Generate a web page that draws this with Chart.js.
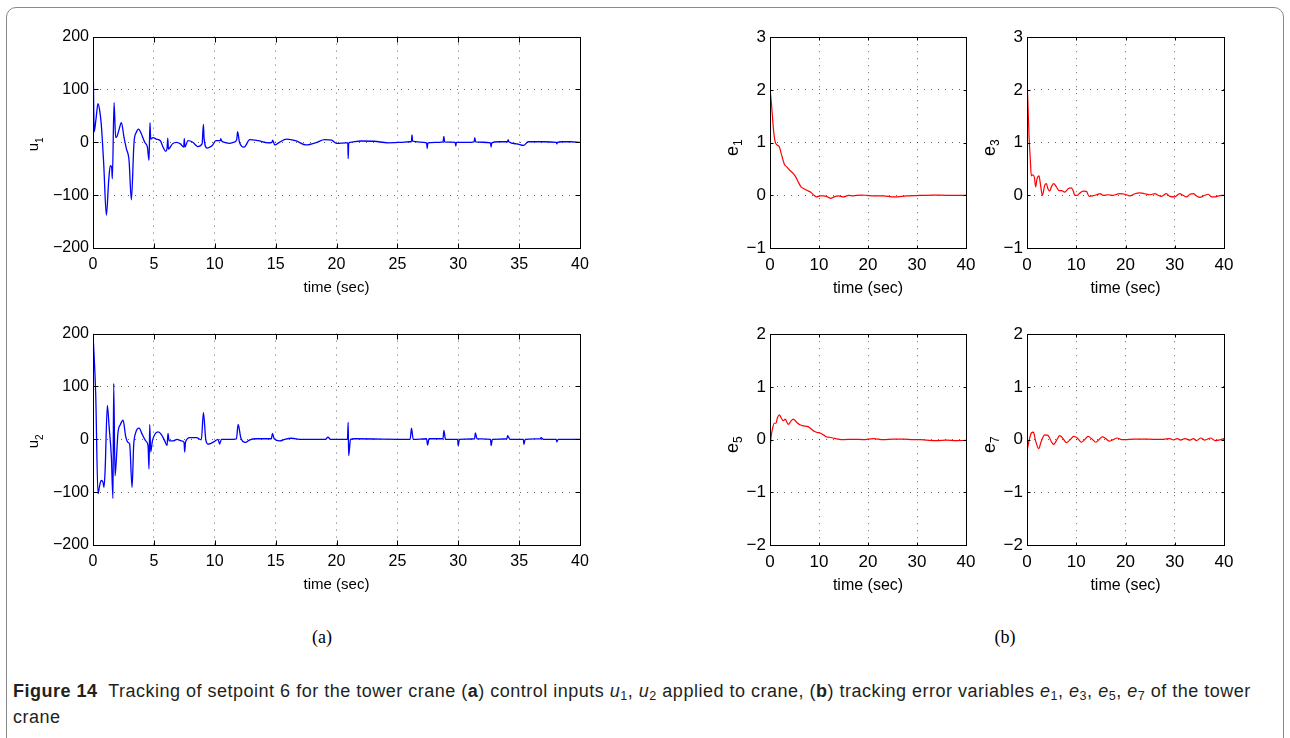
<!DOCTYPE html>
<html>
<head>
<meta charset="utf-8">
<script src="https://cdn.jsdelivr.net/npm/chart.js@4/dist/chart.umd.min.js"></script>
<style>
  html, body { margin: 0; padding: 0; background: #fff; }
  body { width: 1290px; height: 738px; position: relative; overflow: hidden;
         font-family: "Liberation Sans", Arial, sans-serif; }
  .frame { position: absolute; left: 6px; top: 7px; width: 1278px; height: 760px;
           border: 1px solid #8a8a8a; border-radius: 10px; box-sizing: border-box; }
  canvas { position: absolute; }
  .panel { position: absolute; font-family: "Liberation Serif", "DejaVu Serif", serif;
           font-size: 18px; transform: translate(-50%, -50%); color: #000; }
  .caption { position: absolute; left: 13px; top: 678px; font-size: 18px; letter-spacing: 0.5px;
             line-height: 26px; color: #231f20; white-space: nowrap; }
  .caption i { font-style: italic; }
  .caption sub { font-size: 70%; line-height: 0; vertical-align: -0.25em; }
</style>
</head>
<body>
<div class="frame"></div>
<canvas id="cU1"></canvas>
<canvas id="cU2"></canvas>
<canvas id="cE1"></canvas>
<canvas id="cE3"></canvas>
<canvas id="cE5"></canvas>
<canvas id="cE7"></canvas>
<div class="panel" style="left:322px; top:637px;">(a)</div>
<div class="panel" style="left:1005px; top:637px;">(b)</div>
<div class="caption"><b>Figure 14</b>&nbsp; Tracking of setpoint 6 for the tower crane (<b>a</b>) control inputs <i>u</i><sub>1</sub>, <i>u</i><sub>2</sub> applied to crane, (<b>b</b>) tracking error variables <i>e</i><sub>1</sub>, <i>e</i><sub>3</sub>, <i>e</i><sub>5</sub>, <i>e</i><sub>7</sub> of the tower<br>crane</div>

<script>
// ---- control input u1 ----
const u1T = [
  0, 0.03, 0.06, 0.1, 0.25, 0.41, 0.55, 0.68, 0.88, 1.1,
  1.29, 1.42, 1.53, 1.59, 1.73, 1.86, 1.97, 2.15, 2.33, 2.55,
  2.74, 2.96, 3.15, 3.37, 3.56, 3.75, 3.97, 4.25, 4.47, 4.6,
  4.68, 4.74, 4.93, 5.2, 5.53, 5.75, 5.97, 6.08, 6.14, 6.2,
  6.52, 6.85, 7.18, 7.45, 7.5, 7.55, 7.8, 8.2, 8.6, 8.96,
  9.07, 9.12, 9.37, 9.6, 9.8, 10.1, 10.45, 10.5, 10.55, 10.8,
  11.2, 11.56, 11.8, 11.88, 12.03, 12.41, 12.88, 13.56, 14.38, 14.7,
  14.75, 14.93, 15.3, 15.9, 16.7, 17.5, 18.4, 19.0, 19.6, 20.0,
  20.8, 20.93, 20.96, 21.0, 21.1, 22.05, 23.1, 24.2, 25.3, 26.0,
  26.15, 26.2, 26.25, 27.4, 27.45, 27.5, 28.1, 28.75, 28.82, 28.88,
  29.75, 29.8, 29.85, 30.7, 31.3, 31.36, 31.42, 32.65, 32.7, 32.75,
  33.3, 34.05, 34.1, 34.15, 34.8, 35.36, 35.75, 37.0, 38.05, 38.1,
  38.15, 38.5, 39.2, 40
];
const u1V = [
  165, 120, 60, 20, 45, 73, 60, 34, -41, -138,
  -72, -44, -47, -69, 75, 9, 11, 25, 37, 9,
  -12, -34, -109, 0, 19, 25, 16, 0, -9, -34,
  37, 6, 9, 6, 3, -9, -17, -12, 8, -13,
  -3, 0, -3, -9, 7, -9, 3, 0, -8, -3,
  34, 8, -11, -9, -6, 3, 3, 7, 3, 0,
  -2, 0, 5, 20, 0, -9, 5, 3, -1, 0,
  4, -5, 0, 6, 2.5, -5, 0, 5, 4, -2,
  -1, -1, -31, -2, 0, 2.5, 2, -1, 0, 1,
  1, 14, 2, -1, -12, -1, 0, 1, 11, 1,
  0, -7, 0, 0, 1, 9, 1, -1, -9, -1,
  1, 1, 5, 1, -3, -6, 1, 1, 0, -3,
  0, 1, 1, 0
];

// ---- control input u2 ----
const u2T = [
  0, 0.22, 0.41, 0.55, 0.68, 0.82, 0.9, 0.99, 1.18, 1.32,
  1.51, 1.64, 1.7, 1.81, 1.92, 2.05, 2.25, 2.47, 2.68, 2.88,
  3.01, 3.21, 3.34, 3.5, 3.78, 4.05, 4.33, 4.52, 4.6, 4.66,
  4.74, 4.88, 5.07, 5.34, 5.62, 5.89, 6.08, 6.16, 6.25, 6.58,
  6.9, 7.26, 7.48, 7.53, 7.6, 7.95, 8.5, 8.9, 9.07, 9.26,
  9.45, 9.64, 9.92, 10.27, 10.4, 10.55, 11.2, 11.78, 11.92, 12.14,
  12.52, 12.88, 13.42, 14.65, 14.74, 14.88, 15.34, 15.75, 16.3, 17.1,
  19.1, 19.3, 19.5, 20.9, 20.96, 21.0, 21.15, 21.5, 26.05, 26.16,
  26.3, 27.4, 27.48, 27.6, 28.75, 28.82, 28.95, 29.95, 29.99, 30.1,
  31.35, 31.4, 31.55, 32.65, 32.7, 32.8, 34.0, 34.05, 34.25, 35.35,
  35.39, 35.5, 36.75, 36.8, 37.0, 38.05, 38.1, 38.2, 40
];
const u2V = [
  200, 87, -103, -87, -78, -81, -91, -62, 64, 25,
  -34, -112, 106, -69, -37, 12, 28, 36, 6, -6,
  -9, -91, -12, 12, 21, 9, -3, -12, -56, 28,
  -24, -3, 9, 14, 9, -3, -12, 11, -3, -3,
  0, -3, -6, -24, -5, 3, 3, -1, 51, 0,
  -9, -8, -5, 0, -9, 0, 0, 1, 28, 3,
  -6, -1, 1, 1, 11, 1, -3, 0, 2, 0,
  0, 4, 0, 0, 32, -31, 0, 1, 0, 21,
  0, 1, -11, 1, 1, 17, 0, 0, -12, 0,
  1, 12, 1, 0, -12, 0, 1, 7, 0, 0,
  -10, 0, 1, 3, 0, 0, -5, 0, 0
];

// ---- tracking errors ----
const e1T = [0, 0.34, 0.68, 1.02, 1.36, 1.9, 2.24, 2.59, 2.93, 3.4, 4.08, 4.76, 5.3, 5.78, 6.33,
  6.94, 7.62, 8.3, 9.0, 9.5, 10.2, 11.0, 11.7, 12.4, 13.1, 13.9, 15, 16, 17, 18.4,
  19.7, 21.1, 23.1, 25.2, 27.9, 30.6, 33.3, 36, 40];
const e1V = [2.03, 1.69, 1.28, 1.03, 0.96, 0.92, 0.81, 0.69, 0.59, 0.54, 0.47, 0.41, 0.34, 0.25, 0.16,
  0.125, 0.09, 0.06, 0, -0.03, -0.01, -0.01, -0.03, -0.06, -0.03, -0.01, -0.03, 0, -0.01, 0.005,
  0, -0.01, -0.01, -0.03, -0.01, 0, 0.005, 0, 0];

const e3T = [0, 0.2, 0.4, 0.68, 0.88, 1.22, 1.5, 1.76, 2.03, 2.44, 2.71, 3.12, 3.6, 3.93, 4.27,
  4.6, 4.95, 5.42, 5.97, 6.5, 7.0, 7.66, 8.34, 9.0, 9.36, 9.7, 10.2, 10.7, 11.4, 12.07,
  12.6, 13.3, 14.1, 14.8, 15.5, 16.5, 17.5, 18.8, 19.9, 20.9, 21.9, 22.9, 23.9, 24.9, 26,
  26.6, 27.3, 28.3, 29, 30, 31, 31.7, 32.4, 33.1, 33.8, 34.4, 35.1, 36.1, 36.8, 37.5,
  38.2, 38.9, 40];
const e3V = [2.22, 1.72, 1.16, 0.66, 0.37, 0.39, 0.34, 0.16, 0.31, 0.37, 0.22, 0.0, 0.19, 0.22, 0.12,
  0.08, 0.16, 0.22, 0.16, 0.09, 0.09, 0.06, 0.125, 0.14, 0.09, 0, 0, 0.04, 0.08, 0.075,
  -0.02, -0.01, 0.01, 0.03, 0, 0.01, 0, 0.03, 0.02, -0.01, 0.03, 0.045, 0.03, 0.01, 0.03,
  0, -0.02, 0.03, -0.02, -0.03, 0.03, 0, -0.03, 0.02, 0.03, -0.01, -0.04, 0, 0.02, -0.03,
  -0.03, -0.01, 0];

const e5T = [0, 0.2, 0.54, 0.88, 1.22, 1.5, 1.9, 2.3, 2.72, 3.13, 3.4, 3.74, 4.2, 4.76, 5.44,
  6.12, 6.8, 7.6, 8.3, 9, 9.5, 10.2, 10.9, 11.6, 12.2, 12.9, 13.9, 15, 17, 19,
  21.1, 23.1, 25.2, 27.2, 29.3, 30.6, 32, 34, 36, 38.1, 40];
const e5V = [-0.22, 0.03, 0.22, 0.31, 0.31, 0.41, 0.47, 0.41, 0.36, 0.39, 0.34, 0.29, 0.34, 0.39, 0.33,
  0.28, 0.26, 0.25, 0.21, 0.16, 0.14, 0.125, 0.09, 0.05, 0.045, 0.03, 0.01, 0, 0.006, 0,
  0.02, 0, 0.01, 0.01, 0, 0, -0.01, -0.02, -0.01, -0.02, -0.015];

const e7T = [0, 0.4, 0.88, 1.29, 1.76, 2.37, 2.9, 3.6, 4.27, 4.95, 5.42, 5.97, 6.64, 7.32, 8.0,
  8.68, 9.5, 10.2, 11.05, 11.7, 12.4, 13.1, 14.0, 14.6, 15.3, 16, 16.7, 17.5, 18.3, 19.2,
  19.9, 21.6, 23.6, 25.6, 27.7, 29, 29.7, 30.5, 31.2, 32.1, 33.1, 33.8, 34.4, 35.3, 36.1,
  37.3, 38.2, 38.9, 40];
const e7V = [-0.22, -0.03, 0.125, 0.14, -0.03, -0.17, -0.03, 0.09, 0.08, -0.04, -0.09, -0.02, 0.075, 0.02, -0.06,
  -0.01, 0.06, 0.03, -0.05, 0, 0.06, 0.02, -0.05, 0, 0.05, 0.02, -0.03, 0, 0.03, 0,
  0, 0.01, 0.01, 0.005, 0.005, 0.02, -0.005, 0.02, -0.01, 0.02, -0.01, 0.02, -0.02, 0.03, -0.01,
  0.03, -0.02, -0.01, 0.02];

// ---- tick values ----
const uTimeTicks = [0, 5, 10, 15, 20, 25, 30, 35, 40];
const eTimeTicks = [0, 10, 20, 30, 40];
const uTicks = [-200, -100, 0, 100, 200];
const e13Ticks = [-1, 0, 1, 2, 3];
const e57Ticks = [-2, -1, 0, 1, 2];

const FONT = '"Liberation Sans", Arial, sans-serif';

// box around the axes, inward ticks, and axis titles (y title gets a subscript)
const matlabAxes = {
  id: 'matlabAxes',
  afterDraw(chart, args, o) {
    const { ctx, chartArea: a, scales: { x, y } } = chart;
    const L = Math.round(a.left) + 0.5, R = Math.round(a.right) + 0.5;
    const T = Math.round(a.top) + 0.5, B = Math.round(a.bottom) + 0.5;
    ctx.save();
    ctx.setLineDash([]);
    ctx.strokeStyle = '#000';
    ctx.lineWidth = 1;
    ctx.beginPath();
    x.ticks.forEach(t => {
      const px = Math.round(x.getPixelForValue(t.value)) + 0.5;
      ctx.moveTo(px, B); ctx.lineTo(px, B - o.tick);
      ctx.moveTo(px, T); ctx.lineTo(px, T + o.tick);
    });
    y.ticks.forEach(t => {
      const py = Math.round(y.getPixelForValue(t.value)) + 0.5;
      ctx.moveTo(L, py); ctx.lineTo(L + o.tick, py);
      ctx.moveTo(R, py); ctx.lineTo(R - o.tick, py);
    });
    ctx.stroke();
    ctx.strokeRect(L, T, R - L, B - T);

    ctx.fillStyle = '#000';
    ctx.font = `${o.fs}px ${FONT}`;
    ctx.textAlign = 'center';
    ctx.textBaseline = 'middle';
    ctx.fillText('time (sec)', (a.left + a.right) / 2, a.bottom + o.titleGap);

    ctx.translate(a.left - o.yGap, (a.top + a.bottom) / 2 + o.yShift);
    ctx.rotate(-Math.PI / 2);
    ctx.textAlign = 'left';
    ctx.textBaseline = 'alphabetic';
    ctx.font = `${o.nameSize}px ${FONT}`;
    const wName = ctx.measureText(o.name).width;
    ctx.font = `${o.subSize}px ${FONT}`;
    const wSub = ctx.measureText(o.sub).width;
    const x0 = -(wName + wSub) / 2;
    ctx.font = `${o.nameSize}px ${FONT}`;
    ctx.fillText(o.name, x0, 0);
    ctx.font = `${o.subSize}px ${FONT}`;
    ctx.fillText(o.sub, x0 + wName, o.subDrop);
    ctx.restore();
  }
};

const PAD = { l: 70, t: 12, r: 24, b: 60 };

// dotted grid, left off at the axis ends where the box is drawn
const gridFor = (lo, hi) => ({
  lineWidth: 1,
  drawTicks: false,
  color: c => (c.tick && (c.tick.value === lo || c.tick.value === hi))
    ? 'rgba(0,0,0,0)' : 'rgba(0,0,0,0.6)'
});

function plot(id, box, T, V, cfg) {
  const cv = document.getElementById(id);
  cv.width = box.w + PAD.l + PAD.r;
  cv.height = box.h + PAD.t + PAD.b;
  cv.style.left = (box.x - PAD.l) + 'px';
  cv.style.top = (box.y - PAD.t) + 'px';

  const tickFont = { family: FONT, size: cfg.fs };
  const yLo = cfg.yTicks[0], yHi = cfg.yTicks[cfg.yTicks.length - 1];

  new Chart(cv, {
    type: 'line',
    data: {
      datasets: [{
        data: T.map((t, i) => ({ x: t, y: V[i] })),
        borderColor: cfg.color,
        borderWidth: cfg.lw,
        pointRadius: 0,
        cubicInterpolationMode: 'monotone',
        fill: false
      }]
    },
    options: {
      responsive: false,
      animation: false,
      events: [],
      layout: { padding: { left: 0, top: PAD.t, right: PAD.r, bottom: 0 } },
      plugins: {
        legend: { display: false },
        tooltip: { enabled: false },
        matlabAxes: cfg.axes
      },
      scales: {
        x: {
          type: 'linear', min: 0, max: 40,
          afterBuildTicks: s => { s.ticks = cfg.xTicks.map(v => ({ value: v })); },
          afterFit: s => { s.height = PAD.b; },
          grid: gridFor(0, 40),
          border: { display: false, dash: [1, 6] },
          ticks: { font: tickFont, color: '#000', padding: 7, maxRotation: 0 }
        },
        y: {
          type: 'linear', min: yLo, max: yHi,
          afterBuildTicks: s => { s.ticks = cfg.yTicks.map(v => ({ value: v })); },
          afterFit: s => { s.width = PAD.l; },
          grid: gridFor(yLo, yHi),
          border: { display: false, dash: [1, 6] },
          ticks: {
            font: tickFont, color: '#000', padding: 4,
            callback: v => String(v).replace('-', '\u2212')
          }
        }
      }
    },
    plugins: [matlabAxes]
  });
}

const uAxes = (sub) => ({ name: 'u', sub, fs: 15, nameSize: 15, subSize: 10, subDrop: 5,
                          yGap: 55, yShift: 2, titleGap: 40, tick: 5 });
const eAxes = (sub) => ({ name: 'e', sub, fs: 16, nameSize: 18, subSize: 12, subDrop: 4,
                          yGap: 32, yShift: 5, titleGap: 41, tick: 3 });

const blue = { color: '#0000ff', lw: 1.3, fs: 16, xTicks: uTimeTicks, yTicks: uTicks };
const red = { color: '#ff0000', lw: 1.2, fs: 17, xTicks: eTimeTicks };

plot('cU1', { x: 93, y: 35, w: 487, h: 213 }, u1T, u1V, { ...blue, axes: uAxes('1') });
plot('cU2', { x: 93, y: 332, w: 487, h: 213 }, u2T, u2V, { ...blue, axes: uAxes('2') });
plot('cE1', { x: 770, y: 35, w: 196, h: 213 }, e1T, e1V, { ...red, yTicks: e13Ticks, axes: eAxes('1') });
plot('cE3', { x: 1027, y: 35, w: 197, h: 213 }, e3T, e3V, { ...red, yTicks: e13Ticks, axes: eAxes('3') });
plot('cE5', { x: 770, y: 332, w: 196, h: 213 }, e5T, e5V, { ...red, yTicks: e57Ticks, axes: eAxes('5') });
plot('cE7', { x: 1027, y: 332, w: 197, h: 213 }, e7T, e7V, { ...red, yTicks: e57Ticks, axes: eAxes('7') });
</script>
</body>
</html>
